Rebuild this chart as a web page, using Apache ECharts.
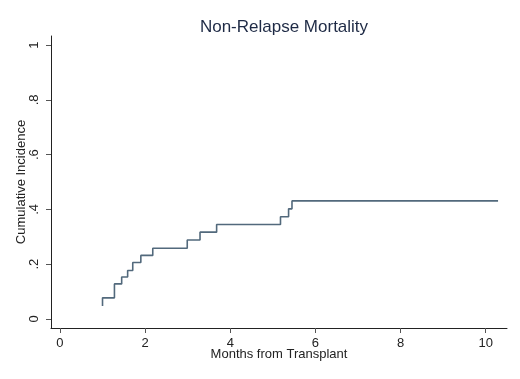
<!DOCTYPE html>
<html>
<head>
<meta charset="UTF-8">
<title>Non-Relapse Mortality</title>
<script src="https://cdn.jsdelivr.net/npm/echarts@6/dist/echarts.min.js"></script>
<style>
  html, body { margin: 0; padding: 0; background: #fff; }
  #main { width: 520px; height: 379px; }
</style>
</head>
<body>
<div id="main"></div>
<script>
// step points: months from transplant and cumulative incidence
var months = [1.0, 1.0, 1.28, 1.45, 1.59, 1.71, 1.90, 2.18, 2.99, 3.29, 3.68, 5.18, 5.37, 5.45, 10.29];
var incidence = [0.047, 0.077, 0.128, 0.153, 0.177, 0.206, 0.232, 0.258, 0.288, 0.317, 0.345, 0.373, 0.402, 0.431, 0.431];
// tick values
var xTicks = [0, 2, 4, 6, 8, 10];
var yTicks = [0, 0.2, 0.4, 0.6, 0.8, 1];
var yTickLabels = ['0', '.2', '.4', '.6', '.8', '1'];

var points = months.map(function (m, i) { return [m, incidence[i]]; });

var myChart = echarts.init(document.getElementById('main'));
var axisFont = { fontFamily: 'Liberation Sans, Arial, sans-serif', fontSize: 13, color: '#222' };

var option = {
  backgroundColor: '#fff',
  animation: false,
  title: {
    text: 'Non-Relapse Mortality',
    left: 279,
    top: 14,
    textAlign: 'center',
    textStyle: { fontFamily: 'Liberation Sans, Arial, sans-serif', fontSize: 17, fontWeight: 'normal', color: '#1e2a45' }
  },
  grid: { left: 51, right: 13, top: 36, bottom: 51 },
  xAxis: {
    type: 'value',
    min: -0.21,
    max: 10.5,
    name: 'Months from Transplant',
    nameLocation: 'middle',
    nameGap: 20,
    nameMoveOverlap: false,
    nameTextStyle: axisFont,
    axisLine: { onZero: false, lineStyle: { color: '#222', width: 1 } },
    axisTick: { show: true, length: 5, customValues: xTicks, lineStyle: { color: '#555' } },
    axisLabel: Object.assign({ customValues: xTicks, margin: 9 }, axisFont),
    splitLine: { show: false }
  },
  yAxis: {
    type: 'value',
    min: -0.033,
    max: 1.033,
    name: 'Cumulative Incidence',
    nameLocation: 'middle',
    nameGap: 23,
    nameMoveOverlap: false,
    nameTextStyle: axisFont,
    axisLine: { show: true, onZero: false, lineStyle: { color: '#222', width: 1 } },
    axisTick: { show: true, length: 5, customValues: yTicks, lineStyle: { color: '#555' } },
    axisLabel: Object.assign({
      customValues: yTicks,
      rotate: 90,
      margin: 10,
      formatter: function (v) {
        var i = yTicks.indexOf(v);
        return i >= 0 ? yTickLabels[i] : '';
      }
    }, axisFont),
    splitLine: { show: false }
  },
  series: [{
    type: 'line',
    step: 'end',
    data: points,
    symbol: 'none',
    lineStyle: { color: '#52697c', width: 1.6 }
  }]
};
myChart.setOption(option);
</script>
</body>
</html>
